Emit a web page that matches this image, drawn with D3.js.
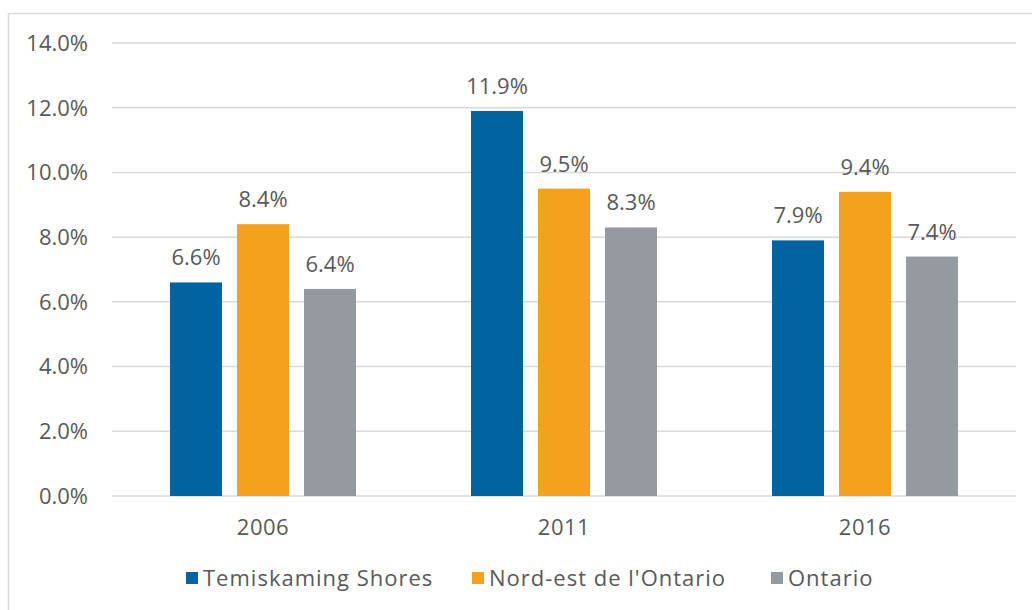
<!DOCTYPE html>
<html>
<head>
<meta charset="utf-8">
<script src="https://cdn.jsdelivr.net/npm/d3@7"></script>
<style>
  body { margin: 0; background: #fff; }
  text { font-family: "Open Sans", "DejaVu Sans", sans-serif; fill: #595959; }
</style>
</head>
<body>
<script>
var categories = ["2006", "2011", "2016"];
var seriesNames = ["Temiskaming Shores", "Nord-est de l'Ontario", "Ontario"];
var seriesColors = ["#0263a1", "#f4a11d", "#949aa0"];
var temiskaming = [6.6, 11.9, 7.9];
var nordEst = [8.4, 9.5, 9.4];
var ontario = [6.4, 8.3, 7.4];
var yTicks = [0, 2, 4, 6, 8, 10, 12, 14];

var values = [temiskaming, nordEst, ontario];

var width = 1032, height = 610;
var svg = d3.select("body").append("svg")
  .attr("width", width)
  .attr("height", height);

// chart frame
svg.append("rect")
  .attr("x", 8.5).attr("y", 13.5)
  .attr("width", width + 20).attr("height", height + 20)
  .attr("fill", "none")
  .attr("stroke", "#d9d9d9")
  .attr("stroke-width", 1.5);

var x0 = d3.scaleBand().domain(categories).range([112.5, 1015.5]).padding(0);
var x1 = d3.scaleBand().domain(seriesNames)
  .range([57.5, 243.5]).paddingInner(15 / 67).paddingOuter(0);
var y = d3.scaleLinear().domain([0, 14]).range([496, 43]);

// gridlines
svg.append("g").selectAll("line").data(yTicks).enter().append("line")
  .attr("x1", 112).attr("x2", 1016)
  .attr("y1", function(d) { return y(d); })
  .attr("y2", function(d) { return y(d); })
  .attr("stroke", "#d9d9d9")
  .attr("stroke-width", 1.5);

// y labels
svg.append("g").selectAll("text").data(yTicks).enter().append("text")
  .attr("x", 88)
  .attr("y", function(d) { return y(d); })
  .attr("dy", "0.36em")
  .attr("text-anchor", "end")
  .attr("font-size", "22px")
  .text(function(d) { return d.toFixed(1) + "%"; });

// bars
var groups = svg.append("g").selectAll("g").data(categories).enter().append("g")
  .attr("transform", function(d) { return "translate(" + x0(d) + ",0)"; });

groups.each(function(cat, ci) {
  var g = d3.select(this);
  var data = seriesNames.map(function(s, si) { return { s: s, si: si, v: values[si][ci] }; });
  g.selectAll("rect").data(data).enter().append("rect")
    .attr("x", function(d) { return x1(d.s); })
    .attr("width", x1.bandwidth())
    .attr("y", function(d) { return y(d.v); })
    .attr("height", function(d) { return y(0) - y(d.v); })
    .attr("fill", function(d) { return seriesColors[d.si]; });
  g.selectAll("text").data(data).enter().append("text")
    .attr("x", function(d) { return x1(d.s) + x1.bandwidth() / 2; })
    .attr("y", function(d) { return y(d.v) - 17; })
    .attr("text-anchor", "middle")
    .attr("font-size", "22px")
    .text(function(d) { return d.v.toFixed(1) + "%"; });
});

// category labels
svg.append("g").selectAll("text").data(categories).enter().append("text")
  .attr("x", function(d) { return x0(d) + x0.bandwidth() / 2; })
  .attr("y", 527)
  .attr("dy", "0.36em")
  .attr("text-anchor", "middle")
  .attr("font-size", "22px")
  .attr("letter-spacing", "0.5px")
  .text(function(d) { return d; });

// legend
var legendX = [186, 472, 771];
var legend = svg.append("g").selectAll("g").data(seriesNames).enter().append("g")
  .attr("transform", function(d, i) { return "translate(" + legendX[i] + ",578)"; });
legend.append("rect")
  .attr("x", 0).attr("y", -6).attr("width", 12).attr("height", 12)
  .attr("fill", function(d, i) { return seriesColors[i]; });
legend.append("text")
  .attr("x", 17)
  .attr("dy", "0.36em")
  .attr("font-size", "22px")
  .attr("letter-spacing", "1px")
  .text(function(d) { return d; });
</script>
</body>
</html>
